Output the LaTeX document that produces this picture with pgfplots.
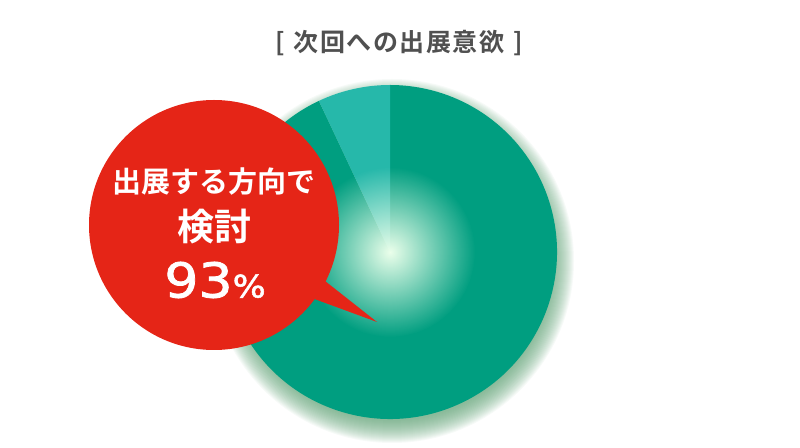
\documentclass[border=0pt]{standalone}
\usepackage{fontspec}
\usepackage{pgfplots}
\usepackage{pgfplotstable}
\pgfplotsset{compat=1.18}
\usetikzlibrary{fadings}
\newfontfamily\jp{Noto Sans CJK JP}[BoldFont={Noto Sans CJK JP Bold}]
\newfontfamily\jptitle{Noto Sans CJK JP Bold}[LetterSpace=6]
\newfontfamily\numf{DejaVu Sans}[FakeBold=1.6, FakeStretch=1.12]
\definecolor{darkgreen}{HTML}{009E80}
\definecolor{lightteal}{HTML}{26B8AA}
\definecolor{bubblered}{HTML}{E52517}
\definecolor{titlegray}{HTML}{505050}
\definecolor{shadowgreen}{HTML}{5A9E70}
\tikzfading[name=glowfade, inner color=transparent!0, outer color=transparent!100]
\pgfplotstableread{
slice value
consider 93
other 7
}\piedata
\begin{document}
\begin{tikzpicture}
\useasboundingbox (0,0) rectangle (800pt,447pt);
\pgfplotstablegetelem{1}{value}\of\piedata
\pgfmathsetmacro{\angB}{90+3.6*\pgfplotsretval}
\begin{axis}[
  at={(0,0)}, anchor=south west,
  width=800pt, height=447pt, scale only axis,
  xmin=0, xmax=800, ymin=0, ymax=447,
  hide axis, clip=false]
% shadow
\pgfplotsinvokeforeach{0,...,22}{
  \fill[shadowgreen, opacity=0.05] (axis cs:392,186) circle[radius={160pt+#1pt}];
}
% pie slices
\fill[darkgreen] (axis cs:390,195) -- ++(\angB:167pt) arc[start angle=\angB, end angle=450, radius=167pt] -- cycle;
\fill[lightteal] (axis cs:390,195) -- ++(90:167pt) arc[start angle=90, end angle=\angB, radius=167pt] -- cycle;
% glow
\fill[white!92!green, path fading=glowfade] (axis cs:390,195) circle[radius=85pt];
% bubble
\fill[bubblered] (axis cs:214,222) circle[radius=125pt];
\fill[bubblered] (axis cs:325,166) -- (axis cs:377,125) -- (axis cs:309,150) -- cycle;
% texts
\node[text=white, font=\jp\bfseries\fontsize{29}{29}\selectfont] at (axis cs:214,265) {出展する方向で};
\node[text=white, font=\jp\bfseries\fontsize{37}{37}\selectfont] at (axis cs:214,220) {検討};
\node[text=white, font=\numf\fontsize{48}{48}\selectfont, inner sep=0pt] at (axis cs:215,167) {93{\fontsize{31}{31}\selectfont\%}};
\node[text=titlegray, font=\jptitle\fontsize{25}{25}\selectfont] at (axis cs:399,404) {[\hspace{0.35em}次回への出展意欲\hspace{0.35em}]};
\end{axis}
\end{tikzpicture}
\end{document}
